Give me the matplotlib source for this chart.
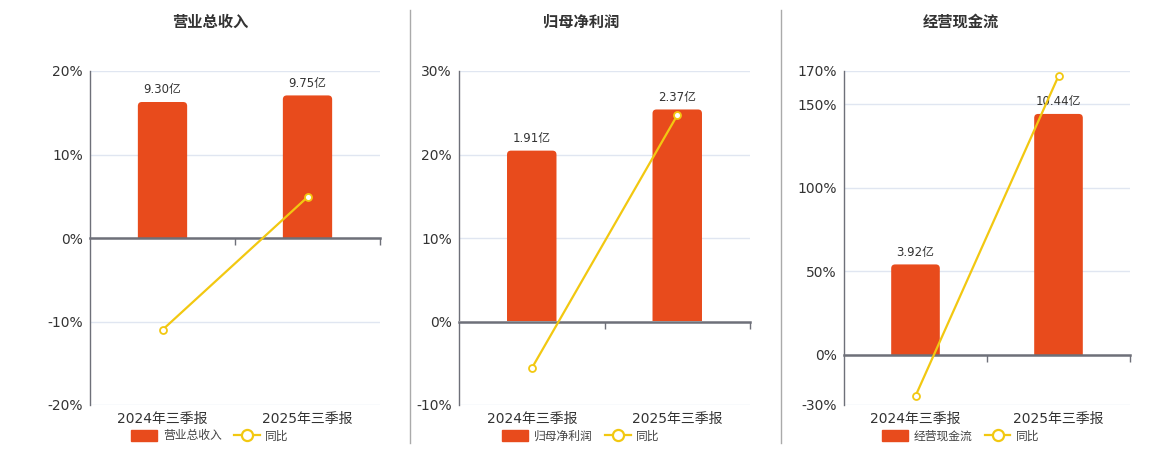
import matplotlib
matplotlib.use('Agg')
import matplotlib.pyplot as plt
from matplotlib.patches import Patch, FancyBboxPatch, Rectangle
from matplotlib.lines import Line2D

plt.rcParams['font.family'] = ['DejaVu Sans', 'Noto Sans CJK SC']

# ---------------- data ----------------
categories = ['2024年三季报', '2025年三季报']
titles = ['营业总收入', '归母净利润', '经营现金流']
bar_values_rev = [9.30, 9.75]
bar_values_np = [1.91, 2.37]
bar_values_cf = [3.92, 10.44]
bar_labels_rev = ['9.30亿', '9.75亿']
bar_labels_np = ['1.91亿', '2.37亿']
bar_labels_cf = ['3.92亿', '10.44亿']
yoy_rev = [-11.0, 4.9]
yoy_np = [-5.6, 24.7]
yoy_cf = [-24.6, 167.0]
yticks_rev = [-20, -10, 0, 10, 20]
yticks_np = [-10, 0, 10, 20, 30]
yticks_cf = [-30, 0, 50, 100, 150, 170]

# ---------------- layout / style ----------------
W, H = 1160, 450
BAR_C = '#E84B1C'
LINE_C = '#F2C811'
GRID_C = '#E0E6F1'
AXIS_C = '#6E7079'
TEXT_C = '#333333'
RADIUS_PX = 4

panels = [
    dict(title=titles[0], bars=bar_values_rev, labels=bar_labels_rev, yoy=yoy_rev,
         yticks=yticks_rev, bar_top=11.42, left=90, right=380, center=210),
    dict(title=titles[1], bars=bar_values_np, labels=bar_labels_np, yoy=yoy_np,
         yticks=yticks_np, bar_top=2.80, left=459, right=750, center=581),
    dict(title=titles[2], bars=bar_values_cf, labels=bar_labels_cf, yoy=yoy_cf,
         yticks=yticks_cf, bar_top=12.30, left=844, right=1130, center=961),
]
AX_TOP, AX_BOT = 71, 405

fig = plt.figure(figsize=(W / 100, H / 100), dpi=100)

for p in panels:
    rect = [p['left'] / W, 1 - AX_BOT / H, (p['right'] - p['left']) / W, (AX_BOT - AX_TOP) / H]
    ax = fig.add_axes(rect)
    ymin, ymax = p['yticks'][0], p['yticks'][-1]
    x = list(range(len(categories)))
    xlo, xhi = -0.5, len(categories) - 0.5

    # base axis: grid and labels
    ax.set_xlim(xlo, xhi)
    ax.set_ylim(ymin, ymax)
    ax.set_yticks(p['yticks'])
    ax.set_yticklabels([f'{t}%' for t in p['yticks']])
    ax.yaxis.grid(True, color=GRID_C, lw=1)
    ax.set_axisbelow(True)
    ax.set_xticks(x)
    ax.set_xticklabels(categories, fontsize=10, color=TEXT_C)
    ax.tick_params(axis='x', length=0, pad=5)
    ax.tick_params(axis='y', length=0, pad=5, labelsize=10, labelcolor=TEXT_C)
    for s in ['top', 'right', 'bottom']:
        ax.spines[s].set_visible(False)
    ax.spines['left'].set_color(AXIS_C)
    ax.spines['left'].set_linewidth(1)

    # bar axis (own scale, zero aligned)
    frac0 = (0 - ymin) / (ymax - ymin)
    btop = p['bar_top']
    bbot = -btop * frac0 / (1 - frac0)
    ax2 = ax.twinx()
    ax2.set_ylim(bbot, btop)
    ax2.set_yticks([])
    for s in ax2.spines.values():
        s.set_visible(False)
    bars = ax2.bar(x, p['bars'], width=0.34, color=BAR_C, zorder=2)
    # rounded top corners: rounded box extended below zero, clipped at zero
    xu_per_px = (xhi - xlo) / (p['right'] - p['left'])
    yu_per_px = (btop - bbot) / (AX_BOT - AX_TOP)
    rx = RADIUS_PX * xu_per_px
    ry = RADIUS_PX * yu_per_px
    clip = Rectangle((xlo, 0), xhi - xlo, btop * 2, transform=ax2.transData)
    for r in bars:
        x0, y0, w, h = r.get_x(), r.get_y(), r.get_width(), r.get_height()
        r.set_visible(False)
        fb = FancyBboxPatch((x0, y0 - 2 * ry), w, h + 2 * ry,
                            boxstyle=f'round,pad=0,rounding_size={rx}',
                            mutation_aspect=yu_per_px / xu_per_px,
                            facecolor=BAR_C, edgecolor='none', zorder=2)
        ax2.add_patch(fb)
        fb.set_clip_path(clip)
    for xi, v, lab in zip(x, p['bars'], p['labels']):
        ax2.annotate(lab, (xi, v), xytext=(0, 4), textcoords='offset points',
                     ha='center', va='bottom', fontsize=8.5, color=TEXT_C)

    # line axis (same percent scale)
    ax3 = ax.twinx()
    ax3.set_ylim(ymin, ymax)
    ax3.set_yticks([])
    for s in ax3.spines.values():
        s.set_visible(False)
    zero = ax3.secondary_xaxis(frac0)
    zero.set_xticks([0.5, 1.5])
    zero.set_xticklabels(['', ''])
    zero.tick_params(length=5, color=AXIS_C, width=1,
                     direction='in' if frac0 >= 0.5 else 'out')
    for s in ['top', 'bottom']:
        zero.spines[s].set_color(AXIS_C)
        zero.spines[s].set_linewidth(1.8)
    ax3.plot(x, p['yoy'], color=LINE_C, lw=1.6, marker='o', markersize=5,
             markerfacecolor='white', markeredgecolor=LINE_C, markeredgewidth=1.3,
             zorder=5)

    fig.text(p['center'] / W, 1 - 22 / H, p['title'], ha='center', va='center',
             fontsize=11, fontweight='bold', color=TEXT_C)

    handles = [Patch(facecolor=BAR_C, edgecolor=BAR_C),
               Line2D([0], [0], color=LINE_C, lw=1.6, marker='o', markersize=8,
                      markerfacecolor='white', markeredgecolor=LINE_C, markeredgewidth=1.6)]
    fig.legend(handles, [p['title'], '同比'], loc='center',
               bbox_to_anchor=(p['center'] / W, 1 - 436 / H), ncol=2, frameon=False,
               fontsize=8.5, handlelength=2.2, handleheight=1.1, handletextpad=0.5,
               columnspacing=1.0, labelcolor='#444444')

# separators
for sx in [410, 781]:
    fig.add_artist(Line2D([sx / W, sx / W], [1 - 10 / H, 1 - 443 / H],
                          transform=fig.transFigure, color='#AAAAAA', lw=1))

fig.savefig('out.png', dpi=100)
